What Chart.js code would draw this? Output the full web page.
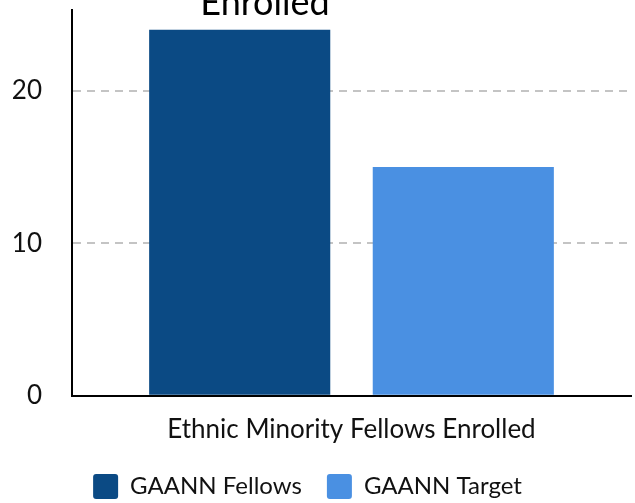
<!DOCTYPE html>
<html>
<head>
<meta charset="utf-8">
<script src="https://cdn.jsdelivr.net/npm/chart.js@4/dist/chart.umd.min.js"></script>
<style>
  html, body { margin: 0; padding: 0; background: #fff; overflow: hidden; }
  #wrap { position: relative; width: 635px; height: 503px; }
  canvas { display: block; }
  #title {
    position: absolute; left: 115px; width: 300px; bottom: 480px;
    font-family: Lato, sans-serif; font-size: 36px; line-height: 43px;
    text-align: center; color: #000;
  }
</style>
</head>
<body>
<div id="wrap">
  <div id="title">Ethnic Minority Fellows<br>Enrolled</div>
  <canvas id="myChart" width="635" height="503"></canvas>
</div>
<script>
// chart data
const categories = ["Ethnic Minority Fellows Enrolled"];
const fellows = [24];
const target = [15];
const yTicks = [0, 10, 20];

Chart.defaults.font.family = "Lato, sans-serif";
Chart.defaults.color = "#111";

const myChart = new Chart("myChart", {
  type: "bar",
  data: {
    labels: categories,
    datasets: [
      { label: "GAANN Fellows", data: fellows, backgroundColor: "#0b4a84" },
      { label: "GAANN Target", data: target, backgroundColor: "#4a90e2" },
    ],
  },
  options: {
    responsive: false,
    animation: false,
    barPercentage: 0.81,
    categoryPercentage: 0.8,
    layout: { padding: { top: 10, right: 4, bottom: -6, left: 0 } },
    scales: {
      y: {
        min: 0,
        max: 25.3,
        border: { display: true, color: "#000", width: 2, dash: [8, 6] },
        grid: {
          drawTicks: false,
          color: (ctx) => (ctx.tick && ctx.tick.value !== 0 ? "#c4c4c4" : "rgba(0,0,0,0)"),
          lineWidth: 2,
        },
        ticks: {
          stepSize: 10,
          padding: 30,
          font: { size: 26 },
        },
        afterBuildTicks: (axis) => {
          axis.ticks = axis.ticks.filter((t) => yTicks.includes(t.value));
        },
        afterFit: (axis) => {
          axis.width = 72;
          axis.paddingTop = 0;
          axis.paddingBottom = 0;
        },
      },
      x: {
        grid: { display: false, drawTicks: false },
        border: { display: true, color: "#000", width: 2 },
        ticks: { padding: 18, font: { size: 26 } },
        afterFit: (axis) => {
          axis.height -= 14;
        },
      },
    },
    plugins: {
      legend: {
        position: "bottom",
        labels: {
          boxWidth: 25,
          boxHeight: 25,
          useBorderRadius: true,
          borderRadius: 3,
          padding: 25,
          font: { size: 24 },
        },
      },
      tooltip: { enabled: false },
    },
  },
  plugins: [
    {
      id: "shiftLegend",
      afterLayout(chart) {
        chart.legend.left -= 8;
        chart.legend.right -= 8;
      },
    },
  ],
});
</script>
</body>
</html>
